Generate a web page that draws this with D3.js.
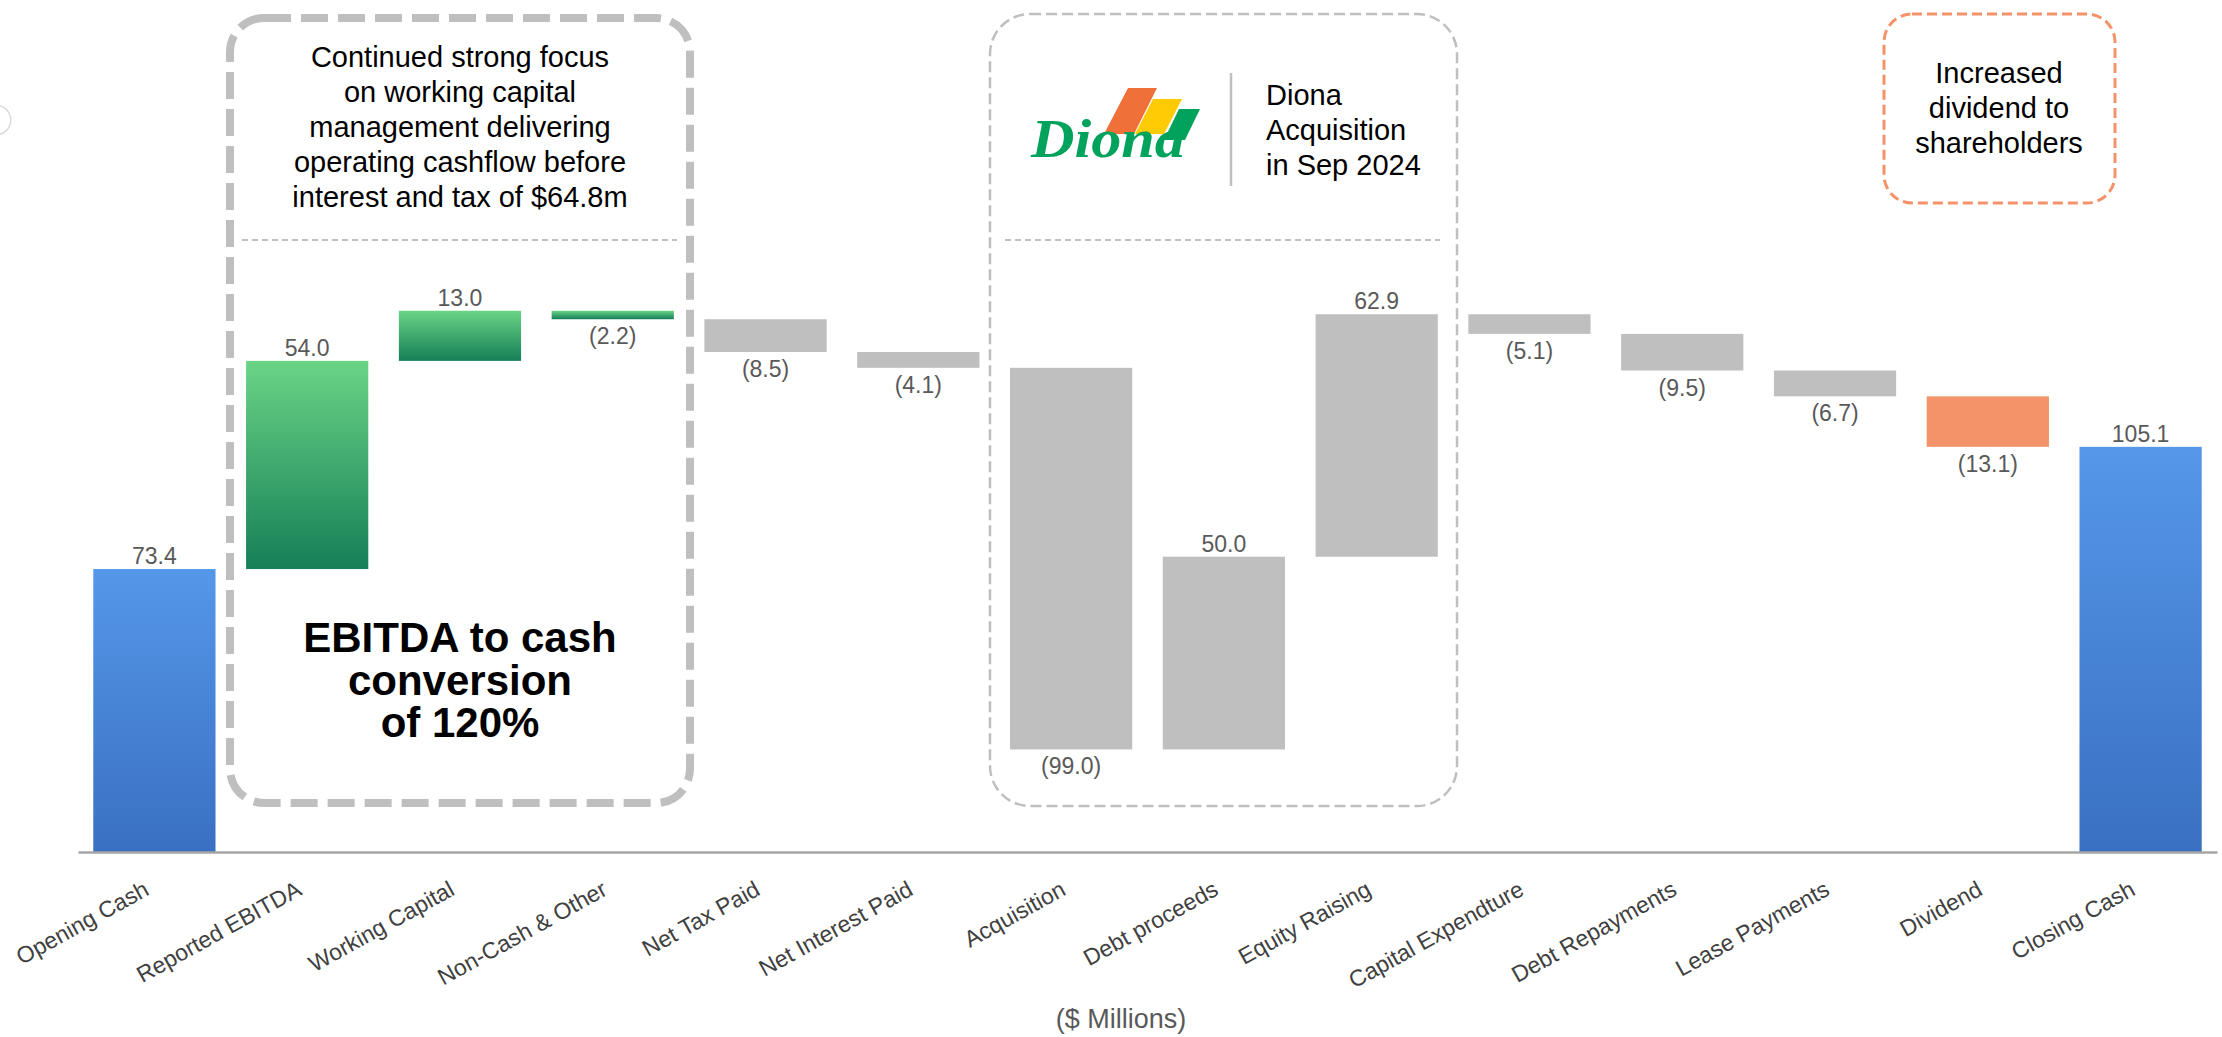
<!DOCTYPE html>
<html>
<head>
<meta charset="utf-8">
<script src="https://cdn.jsdelivr.net/npm/d3@7"></script>
<style>
  html, body { margin: 0; padding: 0; background: #fff; }
  svg { display: block; font-family: "Liberation Sans", Arial, sans-serif; }
</style>
</head>
<body>
<svg id="chart" width="2222" height="1037"></svg>
<script>
// ---------------- DATA ----------------
const categories = ["Opening Cash", "Reported EBITDA", "Working Capital", "Non-Cash & Other",
  "Net Tax Paid", "Net Interest Paid", "Acquisition", "Debt proceeds", "Equity Raising",
  "Capital Expendture", "Debt Repayments", "Lease Payments", "Dividend", "Closing Cash"];
const values = [73.4, 54.0, 13.0, -2.2, -8.5, -4.1, -99.0, 50.0, 62.9, -5.1, -9.5, -6.7, -13.1, 105.1];
const kinds = ["total", "green", "green", "green", "grey", "grey", "grey", "grey", "grey",
  "grey", "grey", "grey", "orange", "total"];
const axisTitle = "($ Millions)";
const noteWorkingCapital = ["Continued strong focus", "on working capital", "management delivering",
  "operating cashflow before", "interest and tax of $64.8m"];
const noteConversion = ["EBITDA to cash", "conversion", "of 120%"];
const noteDiona = ["Diona", "Acquisition", "in Sep 2024"];
const noteDividend = ["Increased", "dividend to", "shareholders"];

// ---------------- SETUP ----------------
const svg = d3.select("#chart");
const x = d3.scaleBand().domain(categories).range([78, 2217]).paddingInner(0.2).paddingOuter(0.1);
const y = d3.scaleLinear().domain([0, 200]).range([852, 852 - 200 * 3.855]);

// waterfall computation
let running = 0;
const bars = categories.map((c, i) => {
  const v = values[i];
  let y0, y1;
  if (kinds[i] === "total") { y0 = 0; y1 = v; running = v; }
  else { y0 = running; y1 = running + v; running = y1; }
  return { cat: c, v, kind: kinds[i], lo: Math.min(y0, y1), hi: Math.max(y0, y1) };
});

// gradients
const defs = svg.append("defs");
function grad(id, top, bottom) {
  const g = defs.append("linearGradient").attr("id", id)
    .attr("x1", 0).attr("y1", 0).attr("x2", 0).attr("y2", 1);
  g.append("stop").attr("offset", "0%").attr("stop-color", top);
  g.append("stop").attr("offset", "100%").attr("stop-color", bottom);
}
grad("gBlue", "#5597E9", "#3A70C2");
grad("gGreen", "#6AD486", "#157F57");
const fills = { total: "url(#gBlue)", green: "url(#gGreen)", grey: "#BFBFBF", orange: "#F4936A" };

// ---------------- ANNOTATION BOXES ----------------
// faint arc at far left
svg.append("path").attr("d", d3.arc()({ innerRadius: 14, outerRadius: 15.5, startAngle: 0, endAngle: Math.PI }))
  .attr("transform", "translate(-4,120)").attr("fill", "#d9d9d9");

// Box 1: thick dashed
svg.append("rect").attr("x", 230).attr("y", 18).attr("width", 460).attr("height", 785)
  .attr("rx", 34).attr("ry", 34)
  .attr("fill", "none").attr("stroke", "#BFBFBF").attr("stroke-width", 8)
  .attr("stroke-dasharray", "27,10");
svg.append("line").attr("x1", 242).attr("x2", 677).attr("y1", 240).attr("y2", 240)
  .attr("stroke", "#BFBFBF").attr("stroke-width", 2).attr("stroke-dasharray", "6,4");
svg.append("g").selectAll("text").data(noteWorkingCapital).join("text")
  .attr("x", 460).attr("y", (d, i) => 67 + i * 35)
  .attr("text-anchor", "middle").attr("font-size", 29).attr("fill", "#000").text(d => d);
svg.append("g").selectAll("text").data(noteConversion).join("text")
  .attr("x", 460).attr("y", (d, i) => 652 + i * 42.5)
  .attr("text-anchor", "middle").attr("font-size", 42).attr("font-weight", "bold")
  .attr("fill", "#000").text(d => d);

// Box 2: thin dashed
svg.append("rect").attr("x", 990).attr("y", 14).attr("width", 467).attr("height", 792)
  .attr("rx", 40).attr("ry", 40)
  .attr("fill", "none").attr("stroke", "#BFBFBF").attr("stroke-width", 2.5)
  .attr("stroke-dasharray", "11,5");
svg.append("line").attr("x1", 1005).attr("x2", 1440).attr("y1", 240).attr("y2", 240)
  .attr("stroke", "#BFBFBF").attr("stroke-width", 2).attr("stroke-dasharray", "6,4");
svg.append("line").attr("x1", 1231).attr("x2", 1231).attr("y1", 73).attr("y2", 186)
  .attr("stroke", "#BFBFBF").attr("stroke-width", 2.5);
// Diona logo
const logo = svg.append("g");
const poly = d3.line();
logo.append("path").attr("d", poly([[1128, 88], [1157, 88], [1134, 134], [1104, 134]]) + "Z").attr("fill", "#F0703A");
logo.append("path").attr("d", poly([[1153, 99], [1182, 99], [1164, 134], [1135, 134]]) + "Z").attr("fill", "#FFCB05");
logo.append("path").attr("d", poly([[1179, 109], [1200, 109], [1185, 140], [1164, 140]]) + "Z").attr("fill", "#00A25C");
logo.append("text").attr("x", 1031).attr("y", 157).attr("font-family", "'Liberation Serif', 'DejaVu Serif', serif")
  .attr("font-style", "italic").attr("font-weight", "bold").attr("font-size", 54)
  .attr("textLength", 154).attr("lengthAdjust", "spacingAndGlyphs")
  .attr("fill", "#00A25C").text("Diona");
svg.append("g").selectAll("text").data(noteDiona).join("text")
  .attr("x", 1266).attr("y", (d, i) => 105 + i * 35)
  .attr("font-size", 29).attr("fill", "#000").text(d => d);

// Box 3: orange dashed
svg.append("rect").attr("x", 1884).attr("y", 14).attr("width", 231).attr("height", 189)
  .attr("rx", 28).attr("ry", 28)
  .attr("fill", "none").attr("stroke", "#F4936A").attr("stroke-width", 3)
  .attr("stroke-dasharray", "10,5");
svg.append("g").selectAll("text").data(noteDividend).join("text")
  .attr("x", 1999).attr("y", (d, i) => 83 + i * 35)
  .attr("text-anchor", "middle").attr("font-size", 29).attr("fill", "#000").text(d => d);

// ---------------- BARS ----------------
svg.append("g").selectAll("rect").data(bars).join("rect")
  .attr("x", d => x(d.cat)).attr("width", x.bandwidth())
  .attr("y", d => y(d.hi)).attr("height", d => y(d.lo) - y(d.hi))
  .attr("fill", d => fills[d.kind]);

// value labels
const fmt = v => v < 0 ? "(" + Math.abs(v).toFixed(1) + ")" : v.toFixed(1);
svg.append("g").selectAll("text").data(bars).join("text")
  .attr("x", d => x(d.cat) + x.bandwidth() / 2)
  .attr("y", d => d.v < 0 ? y(d.lo) + 25 : y(d.hi) - 5)
  .attr("text-anchor", "middle").attr("font-size", 23).attr("fill", "#595959")
  .text(d => fmt(d.v));

// ---------------- AXIS ----------------
const axis = svg.append("g").attr("transform", "translate(0,852)")
  .call(d3.axisBottom(x).tickSize(0).tickSizeOuter(0));
axis.select(".domain").attr("stroke", "#A6A6A6").attr("stroke-width", 2.5);
axis.selectAll(".tick text")
  .attr("font-family", "'Liberation Sans', Arial, sans-serif")
  .attr("font-size", 23).attr("fill", "#404040")
  .attr("text-anchor", "end").attr("dy", 0).attr("y", 0)
  .attr("transform", "translate(-4,42) rotate(-29)");

svg.append("text").attr("x", 1121).attr("y", 1028).attr("text-anchor", "middle")
  .attr("font-size", 27).attr("fill", "#595959").text(axisTitle);
</script>
</body>
</html>
